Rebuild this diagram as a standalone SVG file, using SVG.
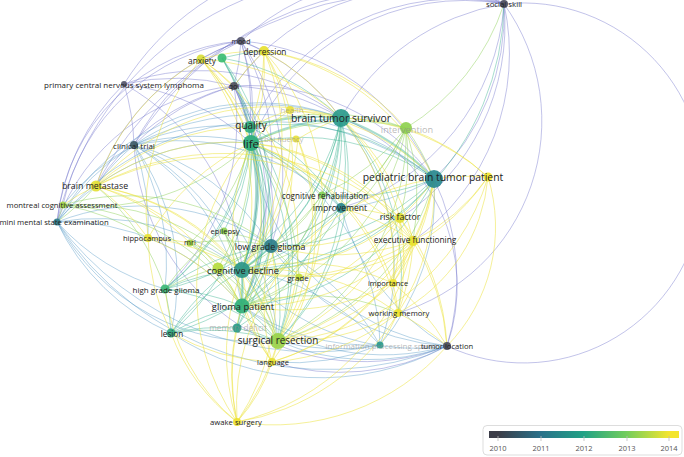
<svg xmlns="http://www.w3.org/2000/svg" width="684" height="457" viewBox="0 0 684 457">
<defs>
<style>
.e path{fill:none;stroke-width:1}
.e0 path{stroke:#7779cf;stroke-opacity:.45}
.e1 path{stroke:#4b93c4;stroke-opacity:.4}
.e2 path{stroke:#2fae8a;stroke-opacity:.42}
.e3 path{stroke:#8fd15a;stroke-opacity:.48}
.e4 path{stroke:#ebe23b;stroke-opacity:.52}
.t path{stroke-width:2}
text{font-family:"Open Sans","Noto Sans",sans-serif;fill:#222;text-anchor:middle;dominant-baseline:central}
.f{fill:#8c8c8c;fill-opacity:.6}
circle{fill-opacity:.92}
.lg{font-size:7.5px;fill:#555}
</style>
<linearGradient id="grad" gradientUnits="userSpaceOnUse" x1="498" y1="0" x2="669" y2="0">
<stop offset="0" stop-color="#3c3d48"/>
<stop offset="0.25" stop-color="#29718a"/>
<stop offset="0.5" stop-color="#22a286"/>
<stop offset="0.75" stop-color="#72cd5c"/>
<stop offset="1" stop-color="#f3e52e"/>
</linearGradient>
</defs>
<rect width="684" height="457" fill="#fff"/>
<g id="connectors" class="e">
<g class="e0">
<path d="M241 41A230 230 0 0 1 504 4"/>
<path d="M234 86A230 230 0 0 1 504 4"/>
<path d="M124 84A270 270 0 0 1 504 4"/>
<path d="M134 145A320 320 0 0 1 504 4"/>
<path d="M96 186A360 360 0 0 1 504 4"/>
<path d="M251 143A230 230 0 0 1 504 4"/>
<path d="M250 127A230 230 0 0 1 504 4"/>
<path d="M341 118A230 230 0 0 1 504 4"/>
<path d="M504 4A230 230 0 0 1 434 179"/>
<path d="M504 4A180 180 0 1 1 447 346"/>
<path d="M504 4A230 230 0 0 1 413 241"/>
<path d="M504 4A230 230 0 0 1 400 218"/>
<path d="M504 4A230 230 0 0 1 341 208"/>
<path d="M504 4A200 200 0 0 1 398 313"/>
<path d="M57 222A320 320 0 0 1 504 4"/>
<path d="M241 41A230 230 0 0 1 234 86"/>
<path d="M241 41A230 230 0 0 1 251 143"/>
<path d="M241 41A230 230 0 0 1 250 127"/>
<path d="M241 41A230 230 0 0 1 264 51"/>
<path d="M201 59A230 230 0 0 1 241 41"/>
<path d="M241 41A230 230 0 0 1 341 118"/>
<path d="M241 41A230 230 0 0 1 434 179"/>
<path d="M134 145A230 230 0 0 1 241 41"/>
<path d="M241 41A230 230 0 0 1 242 270"/>
<path d="M241 41A230 230 0 0 1 271 246"/>
<path d="M96 186A230 230 0 0 1 241 41"/>
<path d="M63 205A210 210 0 0 1 241 41"/>
<path d="M57 222A200 200 0 0 1 241 41"/>
<path d="M57 222A210 210 0 0 1 234 86"/>
<path d="M124 84A230 230 0 0 1 234 86"/>
<path d="M124 84A230 230 0 0 1 134 145"/>
<path d="M124 84A230 230 0 0 1 251 143"/>
<path d="M124 84A230 230 0 0 1 341 118"/>
<path d="M124 84A230 230 0 0 1 242 270"/>
<path d="M57 222A230 230 0 0 1 124 84"/>
<path d="M234 86A230 230 0 0 1 251 143"/>
<path d="M234 86A230 230 0 0 1 250 127"/>
<path d="M134 145A230 230 0 0 1 234 86"/>
<path d="M234 86A230 230 0 0 1 341 118"/>
<path d="M234 86A230 230 0 0 1 434 179"/>
<path d="M234 86A230 230 0 0 1 242 270"/>
<path d="M234 86A230 230 0 0 1 271 246"/>
<path d="M234 86A230 230 0 0 1 242 306"/>
<path d="M234 86A230 230 0 0 1 165 289"/>
<path d="M96 186A230 230 0 0 1 234 86"/>
<path d="M341 118A180 180 0 0 1 447 346"/>
<path d="M434 179A230 230 0 0 1 447 346"/>
<path d="M447 346A230 230 0 0 1 134 145"/>
<path d="M447 346A230 230 0 0 1 272 362"/>
</g>
<g class="e1">
<path d="M447 346A270 270 0 0 1 171 333"/>
<path d="M447 346A320 320 0 0 1 57 222"/>
<path d="M447 346A230 230 0 0 1 242 270"/>
<path d="M447 346A230 230 0 0 1 251 143"/>
<path d="M447 346A230 230 0 0 1 242 306"/>
<path d="M447 346A230 230 0 0 1 278 341"/>
<path d="M447 346A230 230 0 0 1 271 246"/>
<path d="M447 346A230 230 0 0 1 341 208"/>
<path d="M96 186A230 230 0 0 1 134 145"/>
<path d="M63 205A230 230 0 0 1 134 145"/>
<path d="M57 222A230 230 0 0 1 134 145"/>
<path d="M134 145A230 230 0 0 1 242 270"/>
<path d="M134 145A230 230 0 0 1 242 306"/>
<path d="M134 145A230 230 0 0 1 271 246"/>
<path d="M134 145A230 230 0 0 1 165 289"/>
<path d="M134 145A230 230 0 0 1 278 341"/>
<path d="M134 145A230 230 0 0 1 171 333"/>
<path d="M134 145A230 230 0 0 1 341 208"/>
<path d="M134 145A230 230 0 0 1 148 238"/>
<path d="M134 145A230 230 0 0 1 251 143"/>
<path d="M134 145A230 230 0 0 1 250 127"/>
<path d="M134 145A230 230 0 0 1 341 118"/>
<path d="M134 145A270 270 0 0 1 434 179"/>
<path d="M57 222A230 230 0 0 1 242 270"/>
<path d="M57 222A230 230 0 0 1 242 306"/>
<path d="M171 333A230 230 0 0 1 57 222"/>
<path d="M165 289A230 230 0 0 1 57 222"/>
<path d="M278 341A230 230 0 0 1 57 222"/>
<path d="M380 345A320 320 0 0 1 57 222"/>
<path d="M57 222A230 230 0 0 1 251 143"/>
<path d="M57 222A230 230 0 0 1 341 118"/>
<path d="M57 222A270 270 0 0 1 434 179"/>
<path d="M57 222A230 230 0 0 1 271 246"/>
<path d="M341 208A230 230 0 0 1 271 246"/>
<path d="M434 179A230 230 0 0 1 341 208"/>
<path d="M434 179A230 230 0 0 1 380 345"/>
<path d="M341 118A230 230 0 0 1 380 345"/>
<path d="M251 143A230 230 0 0 1 380 345"/>
<path d="M242 270A230 230 0 0 1 380 345"/>
<path d="M380 345A230 230 0 0 1 242 306"/>
<path d="M380 345A230 230 0 0 1 278 341"/>
<path d="M271 246A230 230 0 0 1 380 345"/>
<path d="M380 345A230 230 0 0 1 272 362"/>
</g>
<g class="e2">
<path d="M341 118A230 230 0 0 1 242 270"/>
<path d="M341 118A230 230 0 0 1 271 246"/>
<path d="M341 118A230 230 0 0 1 242 306"/>
<path d="M341 118A230 230 0 0 1 278 341"/>
<path d="M341 118A230 230 0 0 1 341 208"/>
<path d="M341 118A230 230 0 0 1 322 195"/>
<path d="M341 118A230 230 0 0 1 398 313"/>
<path d="M341 118A230 230 0 0 1 171 333"/>
<path d="M341 118A230 230 0 0 1 165 289"/>
<path d="M222 58A230 230 0 0 1 341 118"/>
<path d="M341 118A230 230 0 0 1 237 328"/>
<path d="M251 143A230 230 0 0 1 434 179"/>
<path d="M250 127A230 230 0 0 1 434 179"/>
<path d="M251 143A230 230 0 0 1 242 306"/>
<path d="M251 143A230 230 0 0 1 271 246"/>
<path d="M251 143A230 230 0 0 1 278 341"/>
<path d="M251 143A230 230 0 0 1 165 289"/>
<path d="M251 143A230 230 0 0 1 171 333"/>
<path d="M251 143A230 230 0 0 1 341 208"/>
<path d="M251 143A230 230 0 0 1 237 328"/>
<path d="M251 143A230 230 0 0 1 224 231"/>
<path d="M250 127A230 230 0 0 1 242 270"/>
<path d="M250 127A230 230 0 0 1 242 306"/>
<path d="M250 127A230 230 0 0 1 278 341"/>
<path d="M250 127A230 230 0 0 1 271 246"/>
<path d="M250 127A230 230 0 0 1 165 289"/>
<path d="M250 127A230 230 0 0 1 341 208"/>
<path d="M222 58A230 230 0 0 1 251 143"/>
<path d="M222 58A230 230 0 0 1 250 127"/>
<path d="M222 58A230 230 0 0 1 242 270"/>
<path d="M222 58A230 230 0 0 1 242 306"/>
<path d="M222 58A230 230 0 0 1 264 51"/>
<path d="M434 179A230 230 0 0 1 242 270"/>
<path d="M434 179A230 230 0 0 1 271 246"/>
<path d="M434 179A230 230 0 0 1 242 306"/>
<path d="M434 179A230 230 0 0 1 322 195"/>
<path d="M271 246A230 230 0 0 1 242 306"/>
<path d="M271 246A230 230 0 0 1 278 341"/>
<path d="M165 289A230 230 0 0 1 271 246"/>
<path d="M171 333A230 230 0 0 1 271 246"/>
<path d="M271 246A230 230 0 0 1 237 328"/>
<path d="M242 270A230 230 0 0 1 278 341"/>
<path d="M165 289A230 230 0 0 1 242 270"/>
<path d="M171 333A230 230 0 0 1 242 270"/>
<path d="M242 270A230 230 0 0 1 237 328"/>
<path d="M242 306A230 230 0 0 1 278 341"/>
<path d="M171 333A230 230 0 0 1 242 306"/>
<path d="M165 289A230 230 0 0 1 242 306"/>
<path d="M242 306A230 230 0 0 1 237 328"/>
<path d="M165 289A230 230 0 0 1 171 333"/>
<path d="M165 289A230 230 0 0 1 278 341"/>
<path d="M171 333A230 230 0 0 1 278 341"/>
<path d="M237 328A230 230 0 0 1 278 341"/>
<path d="M171 333A230 230 0 0 1 237 328"/>
<path d="M341 208A230 230 0 0 1 242 270"/>
<path d="M341 208A230 230 0 0 1 242 306"/>
<path d="M341 208A230 230 0 0 1 278 341"/>
<path d="M504 4A270 270 0 0 1 242 270"/>
</g>
<g class="e2 t">
<path d="M251 143A230 230 0 0 1 341 118"/>
<path d="M250 127A230 230 0 0 1 341 118"/>
<path d="M341 118A230 230 0 0 1 434 179"/>
<path d="M251 143A230 230 0 0 1 242 270"/>
<path d="M271 246A230 230 0 0 1 242 270"/>
<path d="M242 270A230 230 0 0 1 242 306"/>
</g>
<g class="e3">
<path d="M341 118A230 230 0 0 1 406 128"/>
<path d="M406 128A230 230 0 0 1 434 179"/>
<path d="M251 143A230 230 0 0 1 406 128"/>
<path d="M250 127A230 230 0 0 1 406 128"/>
<path d="M406 128A230 230 0 0 1 242 270"/>
<path d="M406 128A230 230 0 0 1 242 306"/>
<path d="M406 128A230 230 0 0 1 400 218"/>
<path d="M406 128A230 230 0 0 1 413 241"/>
<path d="M406 128A230 230 0 0 1 341 208"/>
<path d="M406 128A230 230 0 0 1 278 341"/>
<path d="M406 128A230 230 0 0 1 271 246"/>
<path d="M406 128A230 230 0 0 1 322 195"/>
<path d="M504 4A230 230 0 0 1 406 128"/>
<path d="M322 195A230 230 0 0 1 242 270"/>
<path d="M322 195A230 230 0 0 1 271 246"/>
<path d="M322 195A230 230 0 0 1 242 306"/>
<path d="M251 143A230 230 0 0 1 322 195"/>
<path d="M63 205A230 230 0 0 1 57 222"/>
<path d="M63 205A230 230 0 0 1 242 270"/>
<path d="M63 205A230 230 0 0 1 242 306"/>
<path d="M63 205A230 230 0 0 1 148 238"/>
<path d="M63 205A230 230 0 0 1 271 246"/>
<path d="M251 143A230 230 0 0 1 63 205"/>
<path d="M224 231A230 230 0 0 1 242 270"/>
<path d="M224 231A230 230 0 0 1 271 246"/>
<path d="M224 231A230 230 0 0 1 242 306"/>
<path d="M224 231A230 230 0 0 1 278 341"/>
<path d="M165 289A230 230 0 0 1 224 231"/>
<path d="M190 243A230 230 0 0 1 242 270"/>
<path d="M190 243A230 230 0 0 1 242 306"/>
<path d="M190 243A230 230 0 0 1 271 246"/>
<path d="M190 243A230 230 0 0 1 278 341"/>
<path d="M251 143A230 230 0 0 1 190 243"/>
<path d="M218 268A230 230 0 0 1 242 306"/>
<path d="M218 268A230 230 0 0 1 278 341"/>
<path d="M165 289A230 230 0 0 1 218 268"/>
<path d="M218 268A230 230 0 0 1 271 246"/>
<path d="M251 143A230 230 0 0 1 218 268"/>
<path d="M299 277A230 230 0 0 1 242 306"/>
<path d="M299 277A230 230 0 0 1 278 341"/>
<path d="M251 143A230 230 0 0 1 299 277"/>
<path d="M271 246A230 230 0 0 1 299 277"/>
<path d="M242 306A230 230 0 0 1 398 313"/>
<path d="M434 179A230 230 0 0 1 278 341"/>
<path d="M96 186A230 230 0 0 1 57 222"/>
<path d="M96 186A230 230 0 0 1 165 289"/>
</g>
<g class="e4">
<path d="M264 51A230 230 0 0 1 250 127"/>
<path d="M264 51A230 230 0 0 1 251 143"/>
<path d="M201 59A230 230 0 0 1 264 51"/>
<path d="M264 51A230 230 0 0 1 341 118"/>
<path d="M264 51A230 230 0 0 1 290 110"/>
<path d="M234 86A230 230 0 0 1 264 51"/>
<path d="M264 51A230 230 0 0 1 242 270"/>
<path d="M264 51A230 230 0 0 1 242 306"/>
<path d="M264 51A230 230 0 0 1 434 179"/>
<path d="M264 51A230 230 0 0 1 406 128"/>
<path d="M264 51A230 230 0 0 1 278 341"/>
<path d="M201 59A230 230 0 0 1 250 127"/>
<path d="M201 59A230 230 0 0 1 251 143"/>
<path d="M201 59A230 230 0 0 1 234 86"/>
<path d="M201 59A230 230 0 0 1 242 270"/>
<path d="M201 59A230 230 0 0 1 242 306"/>
<path d="M96 186A230 230 0 0 1 201 59"/>
<path d="M148 238A230 230 0 0 1 201 59"/>
<path d="M201 59A230 230 0 0 1 278 341"/>
<path d="M201 59A230 230 0 0 1 341 118"/>
<path d="M290 110A230 230 0 0 1 341 118"/>
<path d="M251 143A230 230 0 0 1 290 110"/>
<path d="M250 127A230 230 0 0 1 290 110"/>
<path d="M290 110A230 230 0 0 1 434 179"/>
<path d="M290 110A230 230 0 0 1 242 270"/>
<path d="M298 139A230 230 0 0 1 341 118"/>
<path d="M251 143A230 230 0 0 1 298 139"/>
<path d="M298 139A230 230 0 0 1 242 270"/>
<path d="M298 139A230 230 0 0 1 278 341"/>
<path d="M298 139A230 230 0 0 1 272 362"/>
<path d="M96 186A230 230 0 0 1 251 143"/>
<path d="M96 186A230 230 0 0 1 250 127"/>
<path d="M96 186A230 230 0 0 1 341 118"/>
<path d="M96 186A230 230 0 0 1 148 238"/>
<path d="M96 186A230 230 0 0 1 242 270"/>
<path d="M96 186A230 230 0 0 1 190 243"/>
<path d="M96 186A230 230 0 0 1 242 306"/>
<path d="M96 186A230 230 0 0 1 278 341"/>
<path d="M96 186A270 270 0 0 1 400 218"/>
<path d="M96 186A270 270 0 0 1 413 241"/>
<path d="M63 205A230 230 0 0 1 96 186"/>
<path d="M148 238A230 230 0 0 1 242 270"/>
<path d="M148 238A230 230 0 0 1 190 243"/>
<path d="M148 238A230 230 0 0 1 242 306"/>
<path d="M171 333A230 230 0 0 1 148 238"/>
<path d="M148 238A230 230 0 0 1 251 143"/>
<path d="M434 179A230 230 0 0 1 400 218"/>
<path d="M434 179A230 230 0 0 1 413 241"/>
<path d="M434 179A230 230 0 0 1 398 313"/>
<path d="M434 179A230 230 0 0 1 393 283"/>
<path d="M434 179A230 230 0 0 1 272 362"/>
<path d="M434 179A230 230 0 0 1 488 177"/>
<path d="M341 118A230 230 0 0 1 488 177"/>
<path d="M406 128A230 230 0 0 1 488 177"/>
<path d="M488 177A200 200 0 0 1 413 241"/>
<path d="M488 177A170 170 0 0 1 398 313"/>
<path d="M488 177A170 170 0 0 1 447 346"/>
<path d="M488 177A230 230 0 0 1 278 341"/>
<path d="M488 177A230 230 0 0 1 242 270"/>
<path d="M400 218A230 230 0 0 1 413 241"/>
<path d="M251 143A230 230 0 0 1 400 218"/>
<path d="M341 118A230 230 0 0 1 400 218"/>
<path d="M341 118A230 230 0 0 1 413 241"/>
<path d="M251 143A230 230 0 0 1 413 241"/>
<path d="M400 218A230 230 0 0 1 242 270"/>
<path d="M400 218A230 230 0 0 1 242 306"/>
<path d="M400 218A230 230 0 0 1 278 341"/>
<path d="M400 218A230 230 0 0 1 398 313"/>
<path d="M400 218A230 230 0 0 1 393 283"/>
<path d="M400 218A230 230 0 0 1 271 246"/>
<path d="M400 218A230 230 0 0 1 447 346"/>
<path d="M341 208A230 230 0 0 1 400 218"/>
<path d="M413 241A230 230 0 0 1 242 270"/>
<path d="M413 241A230 230 0 0 1 242 306"/>
<path d="M413 241A230 230 0 0 1 278 341"/>
<path d="M413 241A230 230 0 0 1 398 313"/>
<path d="M413 241A230 230 0 0 1 393 283"/>
<path d="M413 241A230 230 0 0 1 271 246"/>
<path d="M413 241A230 230 0 0 1 447 346"/>
<path d="M413 241A230 230 0 0 1 237 422"/>
<path d="M413 241A230 230 0 0 1 272 362"/>
<path d="M341 208A230 230 0 0 1 413 241"/>
<path d="M393 283A230 230 0 0 1 242 306"/>
<path d="M393 283A230 230 0 0 1 278 341"/>
<path d="M393 283A230 230 0 0 1 398 313"/>
<path d="M393 283A230 230 0 0 1 447 346"/>
<path d="M341 118A230 230 0 0 1 393 283"/>
<path d="M251 143A230 230 0 0 1 393 283"/>
<path d="M242 270A230 230 0 0 1 393 283"/>
<path d="M398 313A230 230 0 0 1 278 341"/>
<path d="M398 313A230 230 0 0 1 447 346"/>
<path d="M398 313A230 230 0 0 1 380 345"/>
<path d="M398 313A230 230 0 0 1 272 362"/>
<path d="M398 313A230 230 0 0 1 237 422"/>
<path d="M251 143A230 230 0 0 1 398 313"/>
<path d="M242 270A230 230 0 0 1 398 313"/>
<path d="M272 362A170 170 0 0 1 237 422"/>
<path d="M278 341A230 230 0 0 1 237 422"/>
<path d="M237 422A230 230 0 0 1 242 306"/>
<path d="M237 422A230 230 0 0 1 242 270"/>
<path d="M237 422A200 200 0 0 1 171 333"/>
<path d="M237 422A200 200 0 0 1 165 289"/>
<path d="M237 422A230 230 0 0 1 251 143"/>
<path d="M237 422A230 230 0 0 1 237 328"/>
<path d="M237 422A230 230 0 0 1 434 179"/>
<path d="M447 346A230 230 0 0 1 237 422"/>
<path d="M271 246A230 230 0 0 1 237 422"/>
<path d="M272 362A230 230 0 0 1 242 306"/>
<path d="M272 362A230 230 0 0 1 242 270"/>
<path d="M278 341A230 230 0 0 1 272 362"/>
<path d="M272 362A230 230 0 0 1 171 333"/>
<path d="M272 362A230 230 0 0 1 251 143"/>
<path d="M272 362A230 230 0 0 1 271 246"/>
</g>
</g>
<g id="n-social-skill"><circle cx="504" cy="4" r="4" fill="#4a4a5c"/><text x="504" y="4" font-size="7.8">social skill</text></g>
<g id="n-mood"><circle cx="241" cy="41" r="4" fill="#55566a"/><text x="241" y="41" font-size="7">mood</text></g>
<g id="n-depression"><circle cx="264" cy="51" r="5" fill="#e6e030"/><text x="265" y="51" font-size="8.3">depression</text></g>
<g id="n-anxiety"><circle cx="201" cy="59" r="4.5" fill="#d8dd3a"/><text x="202" y="60" font-size="8.3">anxiety</text></g>
<g id="n-fatigue"><circle cx="222" cy="58" r="4.5" fill="#3bbd72"/></g>
<g id="n-primary-cns-lymphoma"><circle cx="124" cy="84" r="3" fill="#55566a"/><text x="124" y="84" font-size="8">primary central nervous system lymphoma</text></g>
<g id="n-qol"><circle cx="234" cy="86" r="4" fill="#4d4f5c"/><text x="234" y="86" font-size="7.5">qol</text></g>
<g id="n-health"><circle cx="290" cy="110" r="4" fill="#e8e040"/><text class="f" x="292" y="110" font-size="7.8">health</text></g>
<g id="n-verbal-fluency"><circle cx="296" cy="139" r="3.5" fill="#e8e040"/><text class="f" x="278" y="139" font-size="7.8">verbal fluency</text></g>
<g id="n-quality"><circle cx="250" cy="127" r="6" fill="#2fae7e"/><text x="251" y="125" font-size="10">quality</text></g>
<g id="n-life"><circle cx="251" cy="143" r="8" fill="#2aae7c"/><text x="251" y="143" font-size="11.5">life</text></g>
<g id="n-brain-tumor-survivor"><circle cx="341" cy="118" r="9" fill="#2a9a8c"/><text x="341" y="118" font-size="10.4">brain tumor survivor</text></g>
<g id="n-intervention"><circle cx="406" cy="128" r="6" fill="#8fd14f"/><text class="f" x="407" y="129" font-size="9.2">intervention</text></g>
<g id="n-pediatric-brain-tumor-patient"><circle cx="434" cy="179" r="9" fill="#27878e"/><circle cx="488" cy="177" r="4.5" fill="#f2e52c"/><text x="433" y="177" font-size="10.4">pediatric brain tumor patient</text></g>
<g id="n-clinical-trial"><circle cx="134" cy="145" r="4" fill="#3d5a66"/><text x="134" y="145" font-size="8">clinical trial</text></g>
<g id="n-brain-metastase"><circle cx="96" cy="186" r="5.5" fill="#e4e034"/><text x="95" y="186" font-size="8.8">brain metastase</text></g>
<g id="n-montreal-cognitive-assessment"><circle cx="63" cy="205" r="3.5" fill="#a6d84a"/><text x="62" y="205" font-size="7.7">montreal cognitive assessment</text></g>
<g id="n-mini-mental-state-examination"><circle cx="57" cy="222" r="3.5" fill="#2f7c8a"/><text x="54" y="222" font-size="7.7">mini mental state examination</text></g>
<g id="n-hippocampus"><circle cx="148" cy="238" r="4" fill="#e8e234"/><text x="147" y="238" font-size="7.6">hippocampus</text></g>
<g id="n-cognitive-rehabilitation"><circle cx="322" cy="195" r="3.5" fill="#7fcf55"/><text x="325" y="195" font-size="8.1">cognitive rehabilitation</text></g>
<g id="n-improvement"><circle cx="341" cy="208" r="5" fill="#28848b"/><text x="340" y="208" font-size="8.6">improvement</text></g>
<g id="n-risk-factor"><circle cx="400" cy="218" r="5" fill="#e2df36"/><text x="400" y="217" font-size="8.7">risk factor</text></g>
<g id="n-executive-functioning"><circle cx="413" cy="241" r="5" fill="#e8e22e"/><text x="415" y="239" font-size="8.3">executive functioning</text></g>
<g id="n-epilepsy"><circle cx="224" cy="231" r="3.5" fill="#8ed150"/><text x="225" y="231" font-size="7.6">epilepsy</text></g>
<g id="n-mri"><circle cx="190" cy="243" r="3.5" fill="#a7d743"/><text x="190" y="242" font-size="7.5">mri</text></g>
<g id="n-unlabelled-yellowgreen"><circle cx="218" cy="268" r="5.5" fill="#b5db3e"/></g>
<g id="n-low-grade-glioma"><circle cx="271" cy="246" r="7" fill="#2d7e8a"/><text x="270" y="246" font-size="8.9">low grade glioma</text></g>
<g id="n-cognitive-decline"><circle cx="242" cy="270" r="8" fill="#2a9688"/><text x="243" y="270" font-size="9.3">cognitive decline</text></g>
<g id="n-grade"><circle cx="299" cy="277" r="3.5" fill="#c0dc3a"/><text x="298" y="277" font-size="8">grade</text></g>
<g id="n-importance"><circle cx="393" cy="283" r="4" fill="#efe530"/><text x="388" y="283" font-size="7.5">importance</text></g>
<g id="n-high-grade-glioma"><circle cx="165" cy="289" r="4.5" fill="#3cb776"/><text x="166" y="289" font-size="8">high grade glioma</text></g>
<g id="n-glioma-patient"><circle cx="242" cy="306" r="7.5" fill="#30b07a"/><text x="243" y="306" font-size="9.3">glioma patient</text></g>
<g id="n-working-memory"><circle cx="398" cy="313" r="4" fill="#ede42e"/><text x="399" y="313" font-size="7.7">working memory</text></g>
<g id="n-memory-deficit"><circle cx="237" cy="328" r="4.5" fill="#2a9a88"/><text class="f" x="238" y="327" font-size="8.2">memory deficit</text></g>
<g id="n-lesion"><circle cx="171" cy="333" r="4.5" fill="#31a57f"/><text x="172" y="333" font-size="8.1">lesion</text></g>
<g id="n-surgical-resection"><circle cx="278" cy="341" r="8" fill="#9ad34a"/><text x="278" y="340" font-size="9.9">surgical resection</text></g>
<g id="n-information-processing-speed"><circle cx="380" cy="345" r="3.5" fill="#2d9a8c"/><text class="f" x="381" y="345" font-size="8">information processing speed</text></g>
<g id="n-tumor-location"><circle cx="447" cy="346" r="4" fill="#4b4c5c"/><text x="447" y="346" font-size="7.6">tumor location</text></g>
<g id="n-language"><circle cx="272" cy="362" r="4" fill="#e6df33"/><text x="273" y="362" font-size="7.5">language</text></g>
<g id="n-awake-surgery"><circle cx="237" cy="422" r="4" fill="#efe32f"/><text x="236" y="422" font-size="7.7">awake surgery</text></g>
<g id="legend">
<rect x="483" y="425.5" width="199" height="29.5" rx="4" fill="#fff" stroke="#dddddd"/>
<rect x="489" y="431" width="190" height="7" fill="url(#grad)"/>
<g stroke="#bbbbbb" stroke-width="0.8">
<line x1="498" y1="436" x2="498" y2="441"/>
<line x1="541" y1="436" x2="541" y2="441"/>
<line x1="584" y1="436" x2="584" y2="441"/>
<line x1="627" y1="436" x2="627" y2="441"/>
<line x1="669" y1="436" x2="669" y2="441"/>
</g>
<text class="lg" x="498" y="448">2010</text>
<text class="lg" x="541" y="448">2011</text>
<text class="lg" x="584" y="448">2012</text>
<text class="lg" x="627" y="448">2013</text>
<text class="lg" x="669" y="448">2014</text>
</g>
</svg>
